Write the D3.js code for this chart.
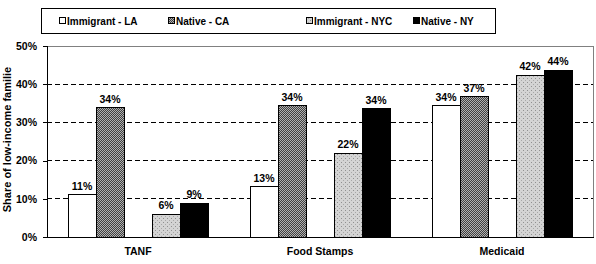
<!DOCTYPE html>
<html>
<head>
<meta charset="utf-8">
<script src="https://cdn.jsdelivr.net/npm/d3@7"></script>
<style>
  body { margin: 0; background: #fff; }
  svg text { font-family: Arial, "Liberation Sans", sans-serif; font-weight: bold; fill: #000; }
</style>
</head>
<body>
<div id="chart"></div>
<script>
// Data
const categories = ["TANF", "Food Stamps", "Medicaid"];
const seriesNames = ["Immigrant - LA", "Native - CA", "Immigrant - NYC", "Native - NY"];
const immigrantLA = [0.11, 0.132, 0.344];
const nativeCA = [0.338, 0.344, 0.367];
const immigrantNYC = [0.06, 0.219, 0.424];
const nativeNY = [0.089, 0.336, 0.436];
const yTicks = [0, 0.1, 0.2, 0.3, 0.4, 0.5];

const allSeries = [immigrantLA, nativeCA, immigrantNYC, nativeNY];
// slot index inside each category (slot 2 is the gap)
const slots = ["0", "1", "3", "4"];

const W = 596, H = 264;
const margin = { top: 46, right: 3, bottom: 27, left: 47 };
const width = W - margin.left - margin.right;
const height = H - margin.top - margin.bottom;

const svgRoot = d3.select("#chart").append("svg")
  .attr("width", W).attr("height", H);

// Fill patterns
const defs = svgRoot.append("defs");
const checker = defs.append("pattern")
  .attr("id", "checker").attr("width", 2).attr("height", 2)
  .attr("patternUnits", "userSpaceOnUse");
checker.append("rect").attr("width", 2).attr("height", 2).attr("fill", "#b0b0b0");
checker.append("rect").attr("width", 1).attr("height", 1).attr("fill", "#404040");
checker.append("rect").attr("x", 1).attr("y", 1).attr("width", 1).attr("height", 1).attr("fill", "#404040");

const dots = defs.append("pattern")
  .attr("id", "dots").attr("width", 4).attr("height", 4)
  .attr("patternUnits", "userSpaceOnUse");
dots.append("rect").attr("width", 4).attr("height", 4).attr("fill", "#d4d4d4");
dots.append("rect").attr("x", 0).attr("y", 0).attr("width", 1).attr("height", 1).attr("fill", "#909090");
dots.append("rect").attr("x", 2).attr("y", 2).attr("width", 1).attr("height", 1).attr("fill", "#a8a8a8");

const fills = ["#ffffff", "url(#checker)", "url(#dots)", "#000000"];

const svg = svgRoot.append("g")
  .attr("transform", `translate(${margin.left},${margin.top})`);

// Scales
const x0 = d3.scaleBand().domain(categories).range([0, width]).padding(0);
const x1 = d3.scaleBand().domain(["0", "1", "2", "3", "4"])
  .range([0, x0.bandwidth()]).paddingOuter(0.75).paddingInner(0);
const y = d3.scaleLinear().domain([0, 0.5]).range([height, 0]);

// Plot border (top and right), grey
svg.append("path")
  .attr("d", `M0,0H${width}V${height}`)
  .attr("fill", "none")
  .attr("stroke", "#808080")
  .attr("stroke-width", 1)
  .attr("shape-rendering", "crispEdges");

// Dashed gridlines
svg.append("g")
  .selectAll("line")
  .data(yTicks.filter(d => d > 0 && d < 0.5))
  .join("line")
  .attr("x1", 0).attr("x2", width)
  .attr("y1", d => y(d)).attr("y2", d => y(d))
  .attr("stroke", "#000")
  .attr("stroke-dasharray", "5,3")
  .attr("shape-rendering", "crispEdges");

// Bars
const groups = svg.append("g")
  .selectAll("g")
  .data(categories)
  .join("g")
  .attr("transform", d => `translate(${x0(d)},0)`);

groups.selectAll("rect")
  .data((c, ci) => allSeries.map((s, si) => ({ v: s[ci], si })))
  .join("rect")
  .attr("x", d => x1(slots[d.si]))
  .attr("y", d => y(d.v))
  .attr("width", x1.bandwidth())
  .attr("height", d => height - y(d.v))
  .attr("fill", d => fills[d.si])
  .attr("stroke", "#000")
  .attr("stroke-width", 1)
  .attr("shape-rendering", "crispEdges");

groups.selectAll("text.val")
  .data((c, ci) => allSeries.map((s, si) => ({ v: s[ci], si })))
  .join("text")
  .attr("class", "val")
  .attr("x", d => x1(slots[d.si]) + x1.bandwidth() / 2)
  .attr("y", d => y(d.v) - 5)
  .attr("text-anchor", "middle")
  .style("font-size", "10.5px")
  .text(d => d3.format(".0%")(d.v));

// Axes
const yAxis = svg.append("g")
  .call(d3.axisLeft(y).tickValues(yTicks).tickFormat(d3.format(".0%")).tickSize(4).tickPadding(6));
yAxis.select(".domain").attr("stroke", "#000").attr("shape-rendering", "crispEdges");
yAxis.selectAll(".tick line").attr("shape-rendering", "crispEdges");
yAxis.selectAll(".tick text")
  .style("font-size", "10.5px")
  .style("font-family", "Arial, sans-serif")
  .style("font-weight", "bold");

const xAxis = svg.append("g")
  .attr("transform", `translate(0,${height})`)
  .call(d3.axisBottom(x0).tickSize(0).tickPadding(11));
xAxis.select(".domain").attr("stroke", "#000").attr("shape-rendering", "crispEdges");
xAxis.selectAll(".tick text")
  .style("font-size", "10.5px")
  .style("font-family", "Arial, sans-serif")
  .style("font-weight", "bold");

// Y axis title
svgRoot.append("text")
  .attr("transform", `translate(11,${margin.top + height / 2 - 2}) rotate(-90)`)
  .attr("text-anchor", "middle")
  .style("font-size", "11px")
  .text("Share of low-income familie");

// Legend
const legend = svgRoot.append("g");
legend.append("rect")
  .attr("x", 41.5).attr("y", 8.5).attr("width", 454).attr("height", 25)
  .attr("fill", "#fff").attr("stroke", "#000");

const legendX = [59, 168, 306, 413];
const items = legend.selectAll("g.item")
  .data(seriesNames)
  .join("g")
  .attr("class", "item")
  .attr("transform", (d, i) => `translate(${legendX[i]},0)`);

items.append("rect")
  .attr("x", 0.5).attr("y", 17.5).attr("width", 6).attr("height", 6)
  .attr("fill", (d, i) => fills[i])
  .attr("stroke", "#000");

items.append("text")
  .attr("x", 8).attr("y", 25)
  .style("font-size", "10px")
  .text(d => d);
</script>
</body>
</html>
